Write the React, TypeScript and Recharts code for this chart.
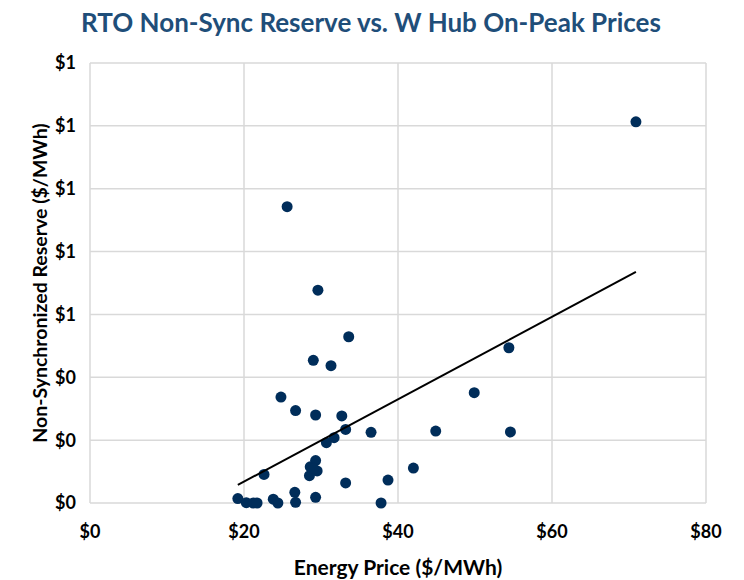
import React from 'react';
import {
  CartesianGrid,
  Label,
  Scatter,
  ScatterChart,
  XAxis,
  YAxis,
} from 'recharts';

// Energy price ($/MWh) and non-sync reserve price ($/MWh)
const energyPrice = [
  24.8, 26.7, 29.3, 32.7, 33.2, 31.7, 30.7, 36.5, 44.9, 49.9,
  29.3, 28.6, 29.5, 28.5, 22.6, 42.0, 38.7, 33.2, 26.6, 26.7,
  29.3, 19.2, 20.3, 21.2, 21.7, 23.8, 24.4, 37.8, 25.6, 29.6,
  33.6, 29.0, 31.3, 54.4, 54.6, 70.9, 29.0,
];
const reservePrice = [
  0.337, 0.294, 0.28, 0.277, 0.234, 0.208, 0.192, 0.225, 0.229, 0.351,
  0.135, 0.115, 0.102, 0.087, 0.091, 0.111, 0.073, 0.064, 0.034, 0.002,
  0.018, 0.014, 0.001, 0, 0, 0.012, 0, 0, 0.943, 0.677,
  0.529, 0.454, 0.437, 0.494, 0.226, 1.213, 0.11,
];

const xTicks = [0, 20, 40, 60, 80];
const yTicks = [0, 0.2, 0.4, 0.6, 0.8, 1.0, 1.2, 1.4];

const points = energyPrice.map((x, i) => ({ x, y: reservePrice[i] }));

// least-squares trendline across the data range, like Excel's linear trendline
function trendline(pts: { x: number; y: number }[]) {
  const n = pts.length;
  const mx = pts.reduce((s, p) => s + p.x, 0) / n;
  const my = pts.reduce((s, p) => s + p.y, 0) / n;
  let num = 0;
  let den = 0;
  pts.forEach((p) => {
    num += (p.x - mx) * (p.y - my);
    den += (p.x - mx) ** 2;
  });
  const b = num / den;
  const a = my - b * mx;
  const xs = pts.map((p) => p.x);
  const lo = Math.min(...xs);
  const hi = Math.max(...xs);
  return [
    { x: lo, y: a + b * lo },
    { x: hi, y: a + b * hi },
  ];
}

const trend = trendline(points);

const FONT = 'Lato, "Open Sans", sans-serif';
const tickStyle = { fill: '#000', fontSize: 18, fontWeight: 700, fontFamily: FONT };

export default function App() {
  return (
    <div style={{ position: 'absolute', left: 0, top: 0, width: 744, height: 580, background: '#fff' }}>
      <div
        style={{
          position: 'absolute',
          left: 0,
          top: 6,
          width: 742,
          textAlign: 'center',
          fontFamily: FONT,
          fontWeight: 700,
          fontSize: 26,
          color: '#1f4e79',
          zIndex: 1,
        }}
      >
        RTO Non-Sync Reserve vs. W Hub On-Peak Prices
      </div>
      <ScatterChart
        width={744}
        height={580}
        margin={{ top: 63, right: 38, bottom: 0, left: 0 }}
      >
        <CartesianGrid stroke="#d9d9d9" strokeWidth={1.5} />
        <XAxis
          type="number"
          dataKey="x"
          domain={[0, 80]}
          ticks={xTicks}
          tickFormatter={(v) => `$${v}`}
          tick={tickStyle}
          tickLine={false}
          axisLine={false}
          tickSize={0}
          tickMargin={22}
          height={77}
        >
          <Label
            value="Energy Price ($/MWh)"
            position="insideBottom"
            offset={5}
            style={{ fill: '#000', fontSize: 21, fontWeight: 700, fontFamily: FONT }}
          />
        </XAxis>
        <YAxis
          type="number"
          dataKey="y"
          domain={[0, 1.4]}
          ticks={yTicks}
          tickFormatter={(v) => `$${Math.round(v)}`}
          tick={tickStyle}
          tickLine={false}
          axisLine={false}
          tickSize={0}
          tickMargin={14}
          width={90}
        >
          <Label
            value="Non-Synchronized Reserve ($/MWh)"
            angle={-90}
            position="insideLeft"
            offset={40}
            style={{ textAnchor: 'middle', fill: '#000', fontSize: 19.5, fontWeight: 700, fontFamily: FONT }}
          />
        </YAxis>
        <Scatter
          data={points}
          fill="#002d5a"
          shape={(p: any) => <circle cx={p.cx} cy={p.cy} r={5.5} fill="#002d5a" />}
          isAnimationActive={false}
        />
        <Scatter
          data={trend}
          line={{ stroke: '#000', strokeWidth: 2 }}
          shape={() => <g />}
          isAnimationActive={false}
        />
      </ScatterChart>
    </div>
  );
}
